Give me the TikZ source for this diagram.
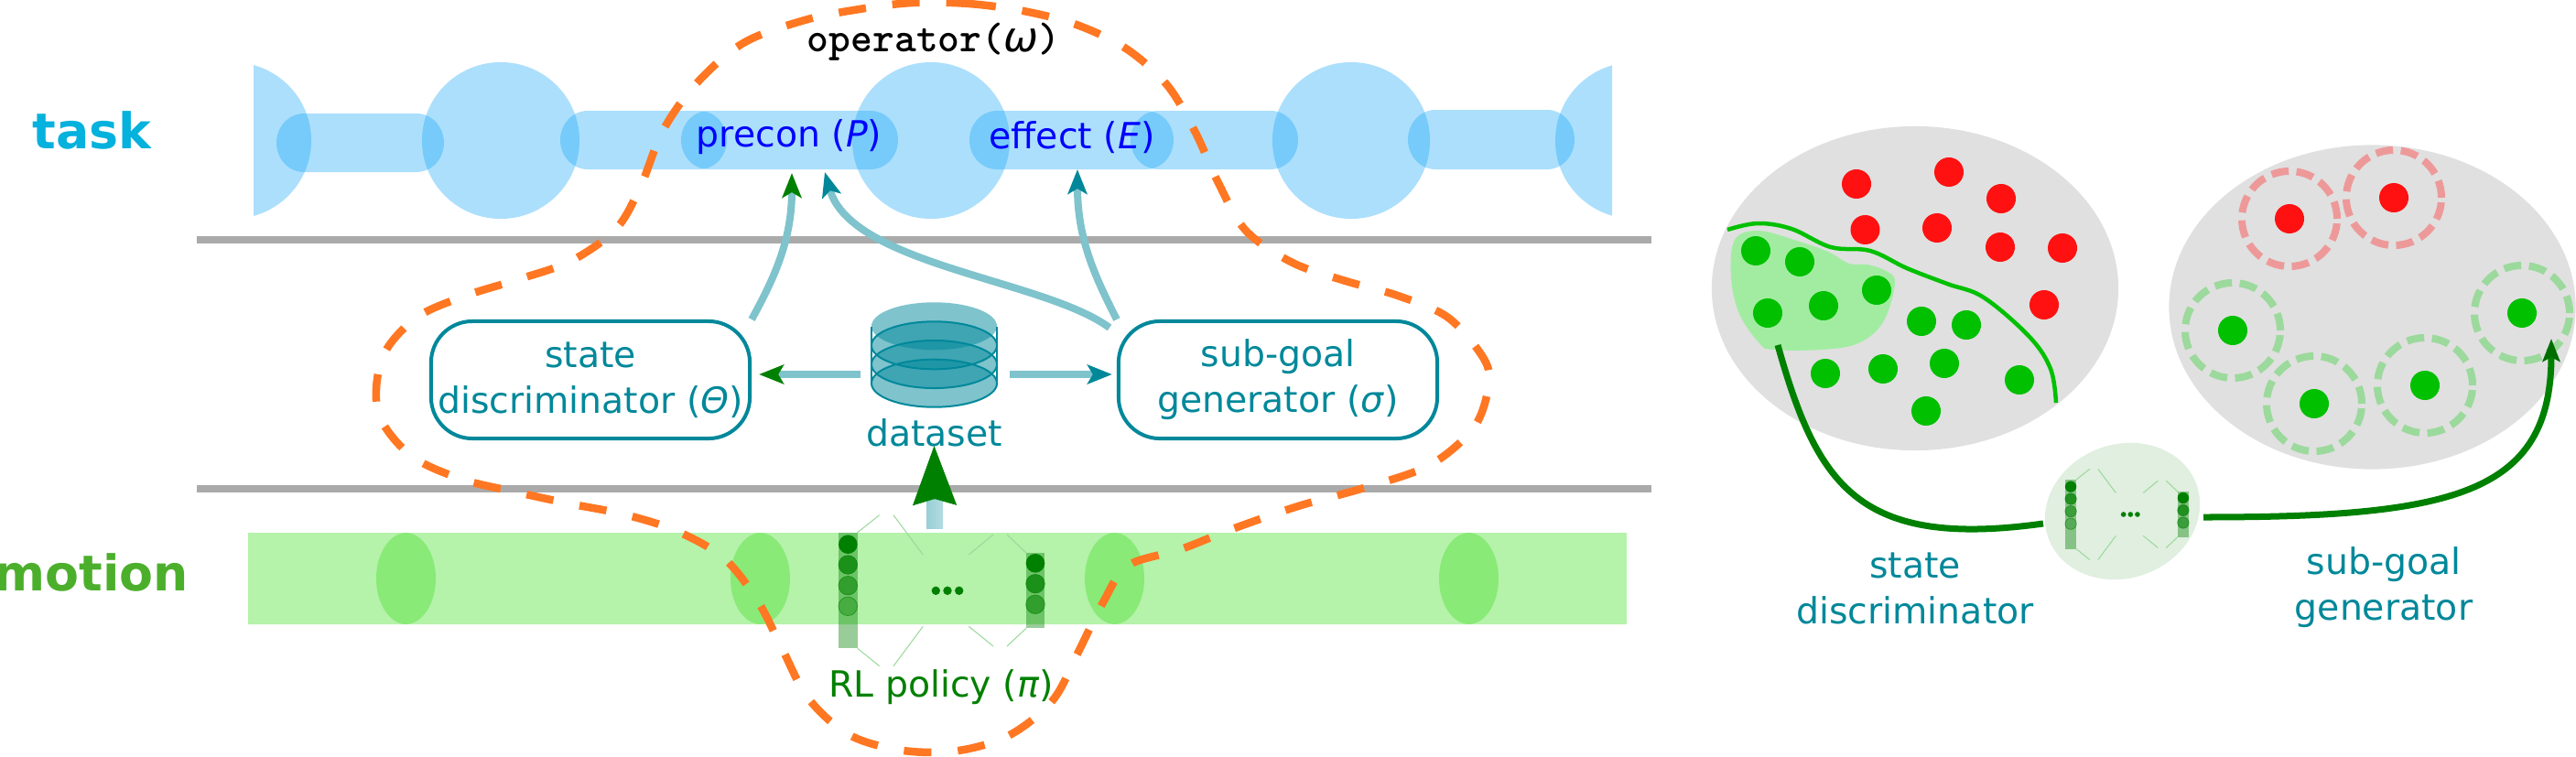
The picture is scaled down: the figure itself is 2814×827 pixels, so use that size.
\documentclass[tikz,border=0pt]{standalone}
\usepackage{fontspec}
\setmainfont{DejaVu Sans}
\usetikzlibrary{arrows.meta,shapes.geometric}
\definecolor{taskblue}{HTML}{12A4F6}
\definecolor{motiongreen}{HTML}{4BDF30}
\definecolor{tasklabel}{HTML}{05B1DD}
\definecolor{motionlabel}{HTML}{4CAF2C}
\definecolor{darkteal}{HTML}{00889A}
\definecolor{flowteal}{HTML}{7FC3CC}
\definecolor{netgreen}{HTML}{008000}
\definecolor{operatorline}{HTML}{FF7722}
\definecolor{sepgrey}{HTML}{AAAAAA}
\definecolor{spacegrey}{HTML}{E0E0E0}
\definecolor{dotred}{HTML}{FF1111}
\definecolor{dotgreen}{HTML}{00C000}
\definecolor{ringred}{HTML}{EE9999}
\definecolor{ringgreen}{HTML}{9CD99C}
\definecolor{blobgreen}{HTML}{A2ECA2}
\definecolor{netoval}{HTML}{E0EFE0}

% one bar with half-ellipse ends: style, left, right, top, bottom, end radius
\newcommand{\linkbar}[6]{%
  \fill[#1] ({#2+#6},#4) -- ({#3-#6},#4)
    .. controls ({#3-.45*#6},#4) and (#3,{(#4+#5)/2-.276*(#5-#4)}) .. (#3,{(#4+#5)/2})
    .. controls (#3,{(#4+#5)/2+.276*(#5-#4)}) and ({#3-.45*#6},#5) .. ({#3-#6},#5)
    -- ({#2+#6},#5)
    .. controls ({#2+.45*#6},#5) and (#2,{(#4+#5)/2+.276*(#5-#4)}) .. (#2,{(#4+#5)/2})
    .. controls (#2,{(#4+#5)/2-.276*(#5-#4)}) and ({#2+.45*#6},#4) .. ({#2+#6},#4) -- cycle;%
}

\begin{document}
\begin{tikzpicture}[
  x=0.01cm, y=-0.01cm,
  blueseg/.style={fill=taskblue, fill opacity=.35},
  greenseg/.style={fill=motiongreen, fill opacity=.41},
  state/.style={ellipse, fill=taskblue, fill opacity=.35, minimum width=1.72cm, minimum height=1.71cm, inner sep=0pt},
  sep/.style={sepgrey, line width=.08cm},
  band/.style={font=\fontsize{15.3}{18}\selectfont\bfseries, anchor=base},
  lbl/.style={font=\fontsize{11.2}{14.2}\selectfont, align=center, text=darkteal, inner sep=0pt},
  lblbase/.style={lbl, anchor=base},
  module/.style={lbl, draw=darkteal, line width=.04cm, rounded corners=.45cm, minimum width=3.48cm, minimum height=1.28cm},
  disk/.style={ellipse, fill=darkteal, fill opacity=.5, minimum width=1.37cm, minimum height=.52cm, inner sep=0pt},
  diskline/.style={disk, draw=darkteal, draw opacity=1, line width=.02cm},
  flow/.style={flowteal, line width=.08cm},
  greentip/.style={-{Stealth[length=2.7mm,width=2.1mm,inset=.6mm,color=netgreen]}},
  tealtip/.style={-{Stealth[length=2.7mm,width=2.1mm,inset=.6mm,color=darkteal]}},
  opline/.style={operatorline, line width=.085cm, dash pattern=on .3cm off .29cm},
  reddot/.style={circle, fill=dotred, minimum size=.32cm, inner sep=0pt},
  greendot/.style={circle, fill=dotgreen, minimum size=.32cm, inner sep=0pt},
  redring/.style={circle, draw=ringred, line width=.08cm, dash pattern=on .19cm off .085cm, minimum size=1.04cm, inner sep=0pt},
  greenring/.style={circle, draw=ringgreen, line width=.08cm, dash pattern=on .19cm off .085cm, minimum size=1.04cm, inner sep=0pt},
  mapline/.style={netgreen, line width=.07cm},
  policynet/.pic={
    \fill[netgreen, fill opacity=.4] (-119,-63) rectangle (-98.3,62.7);
    \fill[netgreen, fill opacity=.4] (86,-41.3) rectangle (106.3,41);
    \fill[netgreen] (-108.7,-50.6) circle[radius=10.3];
    \filldraw[netgreen, fill opacity=.75, draw opacity=.6, line width=.2pt] (-108.7,-28.3) circle[radius=10.3];
    \filldraw[netgreen, fill opacity=.55, draw opacity=.6, line width=.2pt] (-108.7,-5.6) circle[radius=10.3];
    \filldraw[netgreen, fill opacity=.35, draw opacity=.6, line width=.2pt] (-108.7,17) circle[radius=10.3];
    \fill[netgreen] (96,-30) circle[radius=10.3];
    \filldraw[netgreen, fill opacity=.75, draw opacity=.6, line width=.2pt] (96,-7.6) circle[radius=10.3];
    \filldraw[netgreen, fill opacity=.55, draw opacity=.6, line width=.2pt] (96,15) circle[radius=10.3];
    \fill[netgreen] (-12.7,0) circle[radius=4.7];
    \fill[netgreen] (0,0) circle[radius=4.7];
    \fill[netgreen] (12.7,0) circle[radius=4.7];
    \draw[ringgreen, line width=.3pt] (-98.3,-63.6) -- (-74.3,-82.6);
    \draw[ringgreen, line width=.3pt] (-59,-82.6) -- (-26.7,-39.3);
    \draw[ringgreen, line width=.3pt] (23.3,-39.3) -- (50,-61.3);
    \draw[ringgreen, line width=.3pt] (65,-61.3) -- (86,-41.3);
    \draw[ringgreen, line width=.3pt] (-98.3,63) -- (-74.3,82.4);
    \draw[ringgreen, line width=.3pt] (-59,82.4) -- (-26.7,39);
    \draw[ringgreen, line width=.3pt] (23.3,39) -- (50,60.7);
    \draw[ringgreen, line width=.3pt] (65,60.7) -- (86,41);
  }
]
\useasboundingbox (0,0) rectangle (2814,827);

% task band
\begin{scope}
  \clip (277,0) rectangle (1761,300);
  \node[state] (s0) at (254,153.5) {};
  \node[state] (s1) at (547,153.5) {};
  \node[state] (s2) at (1017,153.5) {};
  \node[state] (s3) at (1476,153.5) {};
  \node[state] (s4) at (1785,153.5) {};
\end{scope}
\linkbar{blueseg}{302}{485}{124}{188}{30}
\linkbar{blueseg}{612}{794}{121}{185}{30}
\linkbar{blueseg}{744}{981}{121}{185}{30}
\linkbar{blueseg}{1059}{1282}{121}{185}{30}
\linkbar{blueseg}{1235}{1418}{121}{185}{30}
\linkbar{blueseg}{1538}{1720}{120}{185}{30}

% motion band
\begin{scope}
  \clip (271,0) rectangle (1777,827);
  \linkbar{greenseg}{180}{476}{582}{682}{33}
  \linkbar{greenseg}{411}{863}{582}{682}{33}
  \linkbar{greenseg}{798}{1250}{582}{682}{33}
  \linkbar{greenseg}{1185}{1637}{582}{682}{33}
  \linkbar{greenseg}{1572}{1870}{582}{682}{33}
\end{scope}

\draw[sep] (215,262) -- (1804,262);
\draw[sep] (215,534) -- (1804,534);

\node[band, text=tasklabel] (tasklbl) at (100.5,162) {task};
\node[band, text=motionlabel] (motionlbl) at (100,645) {motion};

\node[lblbase, text=blue] (precon) at (862,160) {precon (\textit{P})};
\node[lblbase, text=blue] (effect) at (1171,162) {effect (\textit{E})};
\node[font=\fontsize{12.9}{15}\selectfont, anchor=base, inner sep=0pt] (oplbl) at (1020,56) {{\ttfamily\bfseries\addfontfeature{FakeBold=1.5}operator(}\textit{ω}{\ttfamily\bfseries\addfontfeature{FakeBold=1.5})}};

\node[module] (disc) at (645,415) {state\\discriminator (\textit{Θ})};
\node[module] (sgen) at (1396,415) {sub-goal\\generator (\textit{σ})};

% dataset
\node[disk] (db0) at (1020.5,356.3) {};
\draw[darkteal, line width=.02cm] (952,357) -- (952,419);
\draw[darkteal, line width=.02cm] (1089,357) -- (1089,419);
\node[diskline] (db1) at (1020.5,377.3) {};
\node[diskline] (db2) at (1020.5,398) {};
\node[diskline] (db3) at (1020.5,418.7) {};
\node[lblbase] (dset) at (1020.5,487) {dataset};

\coordinate (dsl) at (940,409);
\coordinate (dsr) at (1103,409);
\coordinate (sgfree) at (1212,358);
\coordinate (ptipa) at (865,189);
\coordinate (ptipb) at (901,188);
\coordinate (etip) at (1177,185);

\draw[flow, greentip, shorten >=.08cm] (dsl) -- (dsl -| disc.east);
\draw[flow, tealtip, shorten >=.05cm] (dsr) -- (dsr -| sgen.west);
\draw[flow, greentip] (disc.north east) .. controls (848,300) and (865,260) .. (ptipa);
\draw[flow, tealtip] (sgfree) .. controls (1140,305) and (930,290) .. (ptipb);
\draw[flow, tealtip] (sgen.north west) .. controls (1195,300) and (1177,260) .. (etip);

% policy
\pic (pinet) at (1035,645.3) {policynet};
\node[lblbase, text=netgreen] (rl) at (1028,761.7) {RL policy (\textit{π})};

\node[rectangle, left color=flowteal!120!darkteal, right color=flowteal!60, minimum width=.18cm, minimum height=.31cm, inner sep=0pt] (upshaft) at (1021,561.5) {};
\draw[netgreen, line width=.2pt, -{Stealth[length=.65cm,width=.48cm,inset=.07cm,color=netgreen]}] (upshaft.north) -- (dset.base);

% operator outline
\draw[opline] plot[smooth cycle, tension=.55] coordinates {
  (997,3) (1058,4) (1118,12) (1176,27) (1230,53) (1275,93) (1306,145) (1331,200)
  (1361,252) (1412,287) (1470,307) (1527,323) (1582,347) (1621,392) (1626,422)
  (1610,467) (1562,508) (1490,533) (1418,553) (1346,578) (1290,600) (1232,618)
  (1205,658) (1178,712) (1150,765) (1103,803) (1047,820) (987,820) (928,803)
  (883,763) (855,710) (828,657) (791,610) (739,580) (682,562) (621,550) (561,537)
  (503,523) (448,497) (413,450) (418,390) (455,347) (509,323) (567,305) (624,285)
  (673,250) (700,203) (724,143) (760,92) (812,47) (879,22) (939,10)
};

% state space, left
\node[ellipse, fill=spacegrey, minimum width=4.44cm, minimum height=3.54cm, inner sep=0pt] (spacea) at (2092,315) {};
\fill[blobgreen] plot[smooth cycle, tension=.6] coordinates {
  (1921,252) (1895,262) (1891,303) (1900,343) (1922,375) (1937,382) (1990,382)
  (2030,375) (2057,352) (2070,310) (2062,297) (2040,289) (2020,288) (1997,275) (1963,263)
};
\node[reddot] (ra) at (2028,201) {};
\node[reddot] (rb) at (2129,188) {};
\node[reddot] (rc) at (2186,217) {};
\node[reddot] (rd) at (2037.5,251) {};
\node[reddot] (re) at (2116,249) {};
\node[reddot] (rf) at (2185,270) {};
\node[reddot] (rg) at (2253,271) {};
\node[reddot] (rh) at (2233,333) {};
\node[greendot] (ga) at (1918,274) {};
\node[greendot] (gb) at (1966,286) {};
\node[greendot] (gc) at (2050,317) {};
\node[greendot] (gd) at (1992,334) {};
\node[greendot] (ge) at (1931,342) {};
\node[greendot] (gf) at (2099,351) {};
\node[greendot] (gg) at (2148,355) {};
\node[greendot] (gh) at (1994,408) {};
\node[greendot] (gi) at (2057,403) {};
\node[greendot] (gj) at (2124,397) {};
\node[greendot] (gk) at (2206,415) {};
\node[greendot] (gl) at (2104,449) {};
\draw[dotgreen, line width=.045cm] plot[smooth, tension=.6] coordinates {
  (1887,251) (1920,244) (1957,250) (2000,270) (2043,274) (2083,293) (2127,310)
  (2167,325) (2217,368) (2240,403) (2246,440)
};

% state space, right
\node[ellipse, fill=spacegrey, minimum width=4.44cm, minimum height=3.54cm, inner sep=0pt] (spaceb) at (2591.5,335.5) {};
\node[redring] (ringa) at (2501,239) {};
\node[redring] (ringb) at (2615,216) {};
\node[greenring] (ringc) at (2439,361) {};
\node[greenring] (ringd) at (2528,441) {};
\node[greenring] (ringe) at (2649,421) {};
\node[greenring] (ringf) at (2755,342) {};
\node[reddot] (sa) at (2501,239) {};
\node[reddot] (sb) at (2615,216) {};
\node[greendot] (sc) at (2439,361) {};
\node[greendot] (sd) at (2528,441) {};
\node[greendot] (se) at (2649,421) {};
\node[greendot] (sf) at (2755,342) {};

% small network
\node[ellipse, rotate=20, fill=netoval, minimum width=1.72cm, minimum height=1.46cm, inner sep=0pt] (cell) at (2318.5,558.5) {};
\pic[scale=.6] (cellnet) at (2327.3,562) {policynet};

\coordinate (blobfoot) at (1942,377);
\coordinate (cellin) at (2232,572);
\coordinate (cellout) at (2407,565);
\coordinate (ringtip) at (2787,370);
\draw[mapline] (blobfoot) .. controls (1985,530) and (2030,600) .. (cellin);
\draw[mapline, -{Stealth[length=2.5mm,width=1.9mm,inset=.5mm,color=netgreen!85!black]}] (cellout) .. controls (2680,565) and (2787,540) .. (ringtip);

\node[lbl] (lblstate) at (2092,643) {state\\discriminator};
\node[lbl] (lblsub) at (2604,642) {sub-goal\\generator};
\end{tikzpicture}
\end{document}
